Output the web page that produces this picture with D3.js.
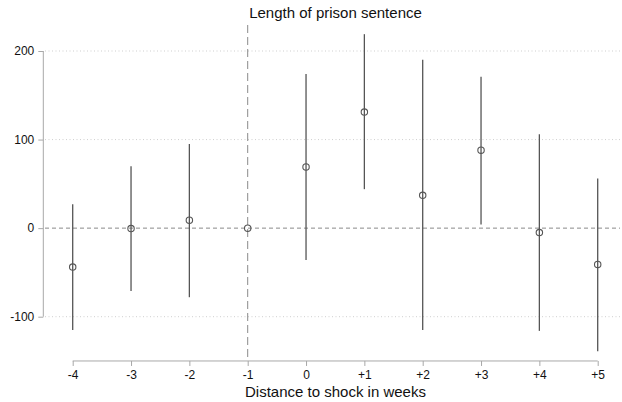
<!DOCTYPE html>
<html>
<head>
<meta charset="utf-8">
<script src="https://cdn.jsdelivr.net/npm/d3@7"></script>
<style>
  html, body { margin: 0; padding: 0; background: #fff; }
  svg { display: block; font-family: "Liberation Sans", Arial, Helvetica, sans-serif; }
</style>
</head>
<body>
<svg id="chart" width="622" height="402"></svg>
<script>
// Event-study estimates: week relative to shock, point estimate and confidence bounds
const weeks    = ["-4", "-3", "-2", "-1", "0", "+1", "+2", "+3", "+4", "+5"];
const estimate = [-44, -0.5, 9, 0, 69, 131, 37, 88, -5, -41];
const ciLow    = [-115, -71, -78, null, -36, 44, -115, 4, -116, -139];
const ciHigh   = [27, 70, 95, null, 174, 219, 190, 171, 106, 56];
const yTicks   = [-100, 0, 100, 200];

const svg = d3.select("#chart");

const x = d3.scalePoint().domain(weeks).range([72.7, 597.7]);
const y = d3.scaleLinear().domain([-100, 200]).range([316.7, 51]);

const gridLeft = 45, gridRight = 620;
const axisY = y(-150);
const refWeek = "-1";

// dotted horizontal gridlines
svg.append("g").selectAll("line")
  .data(yTicks.filter(d => d !== 0))
  .join("line")
  .attr("x1", gridLeft).attr("x2", gridRight)
  .attr("y1", d => y(d)).attr("y2", d => y(d))
  .attr("stroke", "#cfcfcf").attr("stroke-width", 1)
  .attr("stroke-dasharray", "1,2.5");

// dashed zero line
svg.append("line")
  .attr("x1", gridLeft).attr("x2", gridRight)
  .attr("y1", y(0)).attr("y2", y(0))
  .attr("stroke", "#8a8a8a").attr("stroke-width", 1)
  .attr("stroke-dasharray", "4,3");

// dashed vertical marker at the reference week
svg.append("line")
  .attr("x1", x(refWeek)).attr("x2", x(refWeek))
  .attr("y1", 25).attr("y2", axisY)
  .attr("stroke", "#8a8a8a").attr("stroke-width", 1)
  .attr("stroke-dasharray", "8,4");

// y axis (plain hyphen for negative labels)
const yAxis = svg.append("g")
  .attr("transform", "translate(43.3,0)")
  .call(d3.axisLeft(y).tickValues(yTicks).tickSize(5).tickPadding(4).tickFormat(d => String(d)));
yAxis.select(".domain").attr("stroke", "#a8a8a8").attr("d", `M0,${y(200)}V${y(-100)}`);
yAxis.selectAll(".tick line").attr("stroke", "#a8a8a8");
yAxis.selectAll(".tick text").attr("font-size", 12).attr("fill", "#111")
  .attr("font-family", "Liberation Sans, Arial, sans-serif");

// x axis
const xAxis = svg.append("g")
  .attr("transform", `translate(0,${axisY})`)
  .call(d3.axisBottom(x).tickSize(5).tickPadding(5));
xAxis.select(".domain").attr("stroke", "#a8a8a8").attr("d", `M${x(weeks[0])},0H${x(weeks[weeks.length - 1])}`);
xAxis.selectAll(".tick line").attr("stroke", "#a8a8a8");
xAxis.selectAll(".tick text").attr("font-size", 12).attr("fill", "#111")
  .attr("font-family", "Liberation Sans, Arial, sans-serif");

// confidence intervals
const rows = weeks.map((w, i) => ({ w, est: estimate[i], lo: ciLow[i], hi: ciHigh[i] }));
svg.append("g").selectAll("line")
  .data(rows.filter(d => d.lo !== null))
  .join("line")
  .attr("x1", d => x(d.w)).attr("x2", d => x(d.w))
  .attr("y1", d => y(d.hi)).attr("y2", d => y(d.lo))
  .attr("stroke", "#555").attr("stroke-width", 1.3);

// point estimates
svg.append("g").selectAll("circle")
  .data(rows)
  .join("circle")
  .attr("cx", d => x(d.w)).attr("cy", d => y(d.est))
  .attr("r", 3.2)
  .attr("fill", "none")
  .attr("stroke", "#555").attr("stroke-width", 1.1);

// titles
svg.append("text")
  .attr("x", 335.5).attr("y", 17.5)
  .attr("text-anchor", "middle")
  .attr("font-size", 15).attr("fill", "#111")
  .text("Length of prison sentence");

svg.append("text")
  .attr("x", 335.5).attr("y", 397)
  .attr("text-anchor", "middle")
  .attr("font-size", 15).attr("fill", "#111")
  .text("Distance to shock in weeks");
</script>
</body>
</html>
